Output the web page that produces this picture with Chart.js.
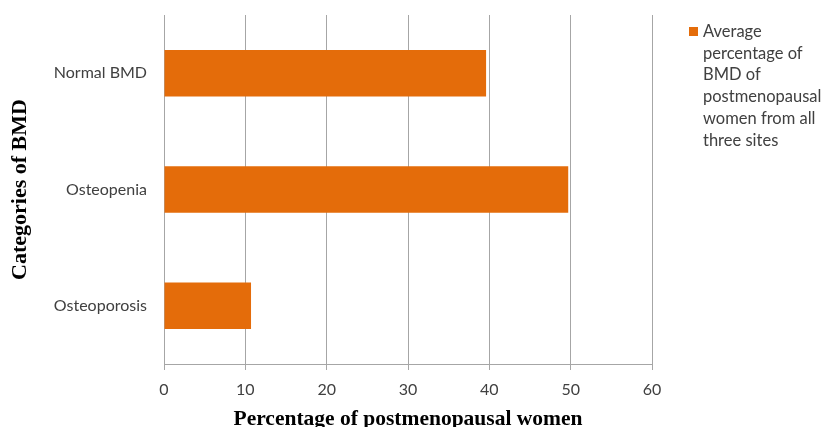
<!DOCTYPE html>
<html>
<head>
<meta charset="utf-8">
<script src="https://cdn.jsdelivr.net/npm/chart.js@4.4.1/dist/chart.umd.min.js"></script>
<style>
  html, body { margin: 0; padding: 0; background: #fff; }
  #wrap { position: relative; width: 825px; height: 427px; }
  #legenda {
    position: absolute; left: 689px; top: 21px; width: 128px;
    font-family: Lato, sans-serif; font-size: 16.5px; line-height: 21.7px; color: #404040;
  }
  #legenda .item { position: relative; padding-left: 14px; }
  #legenda .caixa { position: absolute; left: 0; top: 6px; width: 9px; height: 9px; }
</style>
</head>
<body>
<div id="wrap">
  <canvas id="grafico" width="825" height="427"></canvas>
  <div id="legenda"></div>
</div>
<script>
/*************************************************
 * DADOS
 *************************************************/
const categorias = ['Normal BMD', 'Osteopenia', 'Osteoporosis'];
const valores = [39.6, 49.7, 10.7];
const ticksX = [0, 10, 20, 30, 40, 50, 60];
const rotuloSerie = 'Average percentage of BMD of postmenopausal women from all three sites';
const tituloX = 'Percentage of postmenopausal women';
const tituloY = 'Categories of BMD';

const laranja = '#E46C0A';
const cinza = '#a6a6a6';
const corTexto = '#404040';

/*************************************************
 * GRÁFICO
 *************************************************/
const chart = new Chart(document.getElementById('grafico').getContext('2d'), {
  type: 'bar',
  data: {
    labels: categorias,
    datasets: [{
      label: rotuloSerie,
      data: valores,
      backgroundColor: laranja,
      borderWidth: 0,
      categoryPercentage: 1,
      barPercentage: 0.4
    }]
  },
  options: {
    indexAxis: 'y',
    responsive: false,
    animation: false,
    layout: { padding: { left: 0, right: 173, top: 15, bottom: 0 } },
    plugins: {
      legend: { display: false },
      tooltip: { enabled: false }
    },
    scales: {
      x: {
        min: 0,
        max: 60,
        afterBuildTicks: s => { s.ticks = ticksX.map(v => ({ value: v })); },
        afterFit: s => { s.height = 63; },
        grid: { color: cinza, tickLength: 6 },
        border: { color: cinza },
        ticks: { font: { family: 'Lato', size: 16 }, color: corTexto, padding: 10 },
        title: {
          display: true,
          text: tituloX,
          color: '#000',
          font: { family: 'Liberation Serif', weight: 'bold', size: 21.5 },
          padding: { top: 4, bottom: -5 }
        }
      },
      y: {
        // largura fixa e sem folga extra em cima/baixo
        afterFit: s => { s.width = 164; s.paddingTop = 0; s.paddingBottom = 0; },
        grid: { drawOnChartArea: false, drawTicks: false },
        border: { color: cinza },
        ticks: { font: { family: 'Lato', size: 16 }, color: corTexto, padding: 17 },
        title: {
          display: true,
          text: tituloY,
          color: '#000',
          font: { family: 'Liberation Serif', weight: 'bold', size: 22 },
          padding: 7
        }
      }
    }
  }
});

/*************************************************
 * LEGENDA (HTML)
 *************************************************/
const legenda = document.getElementById('legenda');
chart.data.datasets.forEach(ds => {
  const div = document.createElement('div');
  div.className = 'item';
  div.innerHTML = `<span class="caixa" style="background:${ds.backgroundColor}"></span>${ds.label}`;
  legenda.appendChild(div);
});
</script>
</body>
</html>
